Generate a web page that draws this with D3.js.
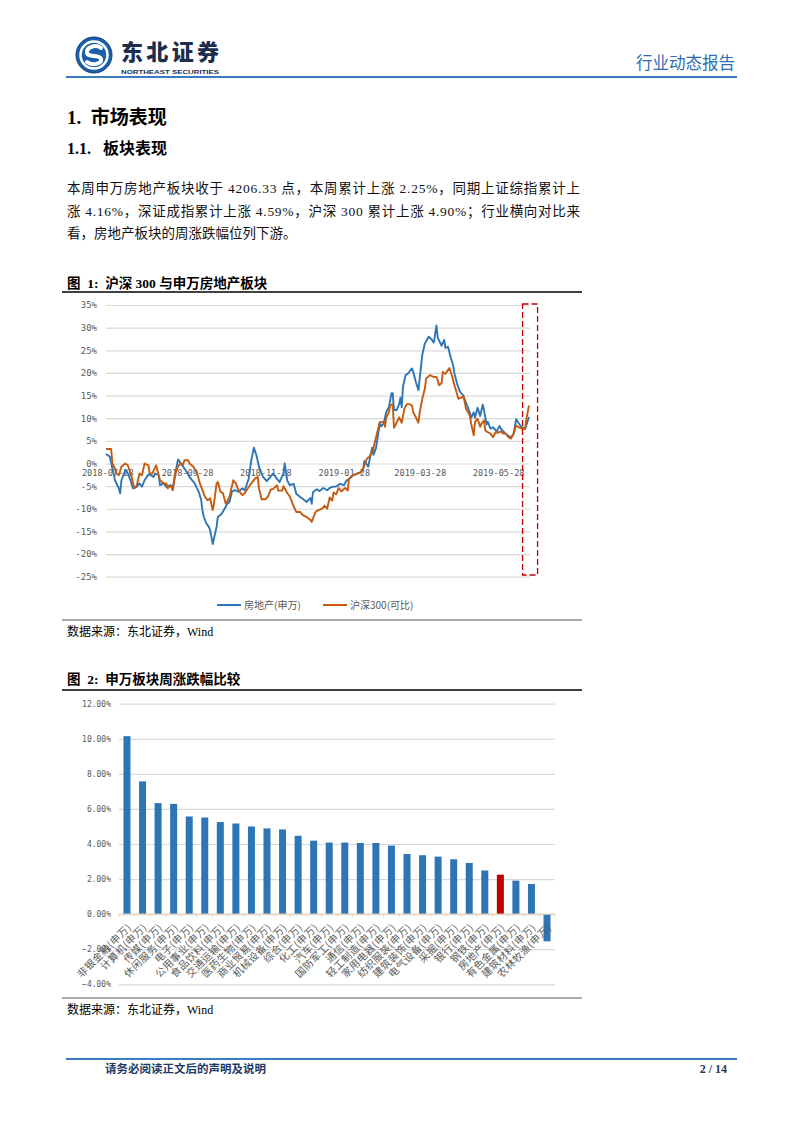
<!DOCTYPE html>
<html>
<head>
<meta charset="utf-8">
<script src="https://cdn.jsdelivr.net/npm/d3@7"></script>
<style>
  body { margin: 0; background: #fff; }
  svg { display: block; }
  text { white-space: pre; }
</style>
</head>
<body>
<svg id="page" width="802" height="1133"></svg>
<script>
// ---- chart 1 data: readings, % change since 2018-07-27 ----
const reDates = ["2018-07-27","2018-07-30","2018-08-03","2018-08-06","2018-08-07","2018-08-08","2018-08-11","2018-08-13","2018-08-15","2018-08-17",
  "2018-08-20","2018-08-22","2018-08-24","2018-08-26","2018-08-29","2018-08-31","2018-09-02","2018-09-03","2018-09-06","2018-09-07",
  "2018-09-10","2018-09-12","2018-09-15","2018-09-17","2018-09-21","2018-09-24","2018-09-27","2018-09-30","2018-10-04","2018-10-07",
  "2018-10-09","2018-10-10","2018-10-11","2018-10-13","2018-10-15","2018-10-16","2018-10-17","2018-10-18","2018-10-21","2018-10-22",
  "2018-10-25","2018-10-28","2018-10-29","2018-10-31","2018-11-02","2018-11-04","2018-11-07","2018-11-10","2018-11-12","2018-11-15",
  "2018-11-17","2018-11-19","2018-11-21","2018-11-23","2018-11-25","2018-11-26","2018-11-29","2018-12-02","2018-12-04","2018-12-07",
  "2018-12-09","2018-12-12","2018-12-13","2018-12-15","2018-12-17","2018-12-20","2018-12-22","2018-12-25","2018-12-27","2018-12-30",
  "2019-01-02","2019-01-03","2019-01-04","2019-01-07","2019-01-09","2019-01-12","2019-01-15","2019-01-17","2019-01-20","2019-01-22",
  "2019-01-25","2019-01-28","2019-01-30","2019-02-02","2019-02-04","2019-02-07","2019-02-10","2019-02-12","2019-02-13","2019-02-16",
  "2019-02-19","2019-02-20","2019-02-22","2019-02-25","2019-02-26","2019-02-28","2019-03-02","2019-03-04","2019-03-06","2019-03-07",
  "2019-03-08","2019-03-10","2019-03-12","2019-03-13","2019-03-14","2019-03-15","2019-03-17","2019-03-19","2019-03-22","2019-03-23",
  "2019-03-25","2019-03-27","2019-03-30","2019-04-01","2019-04-04","2019-04-06","2019-04-08","2019-04-10","2019-04-11","2019-04-14",
  "2019-04-16","2019-04-17","2019-04-19","2019-04-21","2019-04-23","2019-04-24","2019-04-26","2019-04-28","2019-05-01","2019-05-03",
  "2019-05-06","2019-05-07","2019-05-09","2019-05-10","2019-05-12","2019-05-14","2019-05-16","2019-05-17","2019-05-19","2019-05-20",
  "2019-05-22","2019-05-24","2019-05-27","2019-05-29","2019-05-31","2019-06-02","2019-06-05","2019-06-07","2019-06-09","2019-06-11",
  "2019-06-13","2019-06-15","2019-06-18","2019-06-21"];
const reValues = [2.1,1.5,-3.7,-5.5,-6.6,-3.7,-1.5,-2.2,-3.7,-5.5,
  -5.1,-4.4,-5.1,-3.7,-2.4,-2.6,-3.0,-2.2,-2.6,-4.8,
  -4.4,-5.2,-4.8,-5.2,0.9,-0.3,-1.5,-3.0,-4.4,-6.2,
  -8.0,-10.3,-11.7,-13.2,-14.0,-14.8,-16.2,-17.8,-14.0,-11.8,
  -11.1,-9.6,-9.0,-8.5,-6.2,-5.9,-6.2,-5.5,-5.9,-3.3,
  0.7,3.5,1.8,-0.7,-2.2,-2.9,-3.9,-2.9,-2.2,-3.4,
  -4.1,-2.2,0.0,-3.8,-4.8,-4.5,-6.7,-7.4,-7.8,-8.5,
  -7.6,-8.9,-6.3,-5.7,-6.1,-5.4,-5.9,-5.4,-5.1,-5.1,
  -4.5,-4.8,-3.8,-3.2,-2.6,-2.3,-2.0,-1.3,0.6,-0.7,
  3.5,1.9,3.4,8.9,8.2,8.9,11.4,12.4,15.5,15.5,
  11.8,11.8,13.1,14.5,12.4,17.0,19.5,19.9,21.0,20.2,
  18.0,16.2,24.0,26.5,28.0,27.5,26.7,30.5,27.8,26.0,
  27.3,25.5,25.8,23.5,21.7,19.9,17.7,16.0,14.9,13.4,
  11.2,10.1,11.3,10.1,12.3,10.5,13.0,11.8,8.6,9.2,
  7.7,8.0,7.1,8.3,7.4,6.8,6.1,5.8,6.5,9.8,
  8.9,8.1,7.7,10.3];

const hsDates = ["2018-07-27","2018-07-31","2018-08-01","2018-08-03","2018-08-04","2018-08-06","2018-08-08","2018-08-11","2018-08-13","2018-08-16",
  "2018-08-18","2018-08-20","2018-08-22","2018-08-24","2018-08-26","2018-08-29","2018-08-30","2018-09-01","2018-09-04","2018-09-06",
  "2018-09-07","2018-09-10","2018-09-12","2018-09-13","2018-09-15","2018-09-17","2018-09-19","2018-09-21","2018-09-23","2018-09-25",
  "2018-09-26","2018-09-29","2018-09-30","2018-10-03","2018-10-06","2018-10-08","2018-10-11","2018-10-12","2018-10-14","2018-10-16",
  "2018-10-18","2018-10-19","2018-10-21","2018-10-22","2018-10-24","2018-10-26","2018-10-28","2018-10-29","2018-10-31","2018-11-01",
  "2018-11-03","2018-11-05","2018-11-07","2018-11-10","2018-11-12","2018-11-15","2018-11-17","2018-11-20","2018-11-22","2018-11-23",
  "2018-11-25","2018-11-28","2018-11-30","2018-12-02","2018-12-04","2018-12-07","2018-12-08","2018-12-11","2018-12-12","2018-12-15",
  "2018-12-17","2018-12-20","2018-12-22","2018-12-25","2018-12-27","2018-12-30","2019-01-02","2019-01-03","2019-01-06","2019-01-08",
  "2019-01-11","2019-01-13","2019-01-15","2019-01-17","2019-01-19","2019-01-20","2019-01-22","2019-01-24","2019-01-26","2019-01-29",
  "2019-01-31","2019-02-01","2019-02-04","2019-02-10","2019-02-12","2019-02-15","2019-02-17","2019-02-20","2019-02-21","2019-02-25",
  "2019-02-28","2019-03-01","2019-03-02","2019-03-04","2019-03-05","2019-03-07","2019-03-08","2019-03-10","2019-03-12","2019-03-14",
  "2019-03-16","2019-03-18","2019-03-20","2019-03-22","2019-03-23","2019-03-25","2019-03-27","2019-03-28","2019-03-30","2019-04-01",
  "2019-04-02","2019-04-05","2019-04-08","2019-04-10","2019-04-11","2019-04-12","2019-04-14","2019-04-15","2019-04-17","2019-04-18",
  "2019-04-20","2019-04-22","2019-04-24","2019-04-26","2019-04-27","2019-04-30","2019-05-01","2019-05-03","2019-05-06","2019-05-07",
  "2019-05-09","2019-05-10","2019-05-12","2019-05-14","2019-05-15","2019-05-17","2019-05-18","2019-05-20","2019-05-22","2019-05-24",
  "2019-05-26","2019-05-28","2019-05-30","2019-06-01","2019-06-03","2019-06-05","2019-06-07","2019-06-09","2019-06-11","2019-06-13",
  "2019-06-15","2019-06-18","2019-06-19","2019-06-21"];
const hsValues = [3.2,3.2,0.0,-1.1,-2.2,-2.6,-0.7,0.0,-0.4,-3.0,
  -5.5,-4.8,-2.2,-2.6,0.0,-0.4,-2.2,-2.2,-0.4,-2.6,
  -3.7,-4.4,-4.4,-5.5,-4.8,-5.9,-2.2,-0.7,0.0,-0.2,
  0.7,0.7,0.0,-0.7,-2.2,-4.4,-6.6,-7.4,-8.1,-7.7,
  -10.3,-8.8,-4.4,-4.1,-6.2,-6.6,-8.8,-8.5,-7.4,-6.2,
  -3.7,-4.4,-5.9,-7.0,-6.5,-5.2,-4.4,-3.3,-3.0,-5.5,
  -7.9,-7.9,-7.3,-5.8,-5.6,-4.8,-6.0,-6.0,-5.0,-6.5,
  -7.3,-9.5,-10.7,-10.7,-11.4,-11.8,-12.5,-12.9,-10.7,-10.3,
  -10.0,-9.3,-10.0,-7.5,-8.2,-6.4,-6.8,-5.4,-6.2,-5.4,
  -6.0,-3.4,-2.6,-1.9,-1.1,1.1,1.5,3.2,4.6,9.2,
  9.2,8.1,10.2,11.3,12.8,13.1,7.9,9.0,10.2,9.0,
  12.0,13.1,13.1,12.8,11.3,10.2,9.0,11.3,14.3,16.5,
  18.8,19.5,19.1,19.1,18.4,17.3,17.7,20.2,19.8,20.2,
  21.1,19.5,17.3,15.4,14.3,14.6,15.0,12.1,10.6,8.8,
  6.2,9.2,9.9,8.1,8.8,9.5,7.3,6.9,6.6,5.8,
  6.9,6.8,7.1,6.6,6.6,5.8,5.5,6.6,8.4,8.0,
  7.8,7.6,9.9,12.8];

const lineTicks = ["2018-07-28","2018-09-28","2018-11-28","2019-01-28","2019-03-28","2019-05-28"];
const lineYTicks = [35,30,25,20,15,10,5,0,-5,-10,-15,-20,-25];
const seriesNames = ["房地产(申万)","沪深300(可比)"];
const highlightStart = "2019-06-16";

// ---- chart 2 data: weekly change by SW sector (%) ----
const sectors = ["非银金融","计算机","传媒","休闲服务","电子","公用事业","食品饮料","交通运输","医药生物","商业贸易",
  "机械设备","综合","化工","汽车","国防军工","通信","轻工制造","家用电器","纺织服装","建筑装饰",
  "电气设备","采掘","银行","钢铁","房地产","有色金属","建筑材料","农林牧渔"];
const weekChange = [10.15,7.57,6.33,6.29,5.57,5.51,5.25,5.17,5.00,4.89,
  4.83,4.47,4.19,4.08,4.08,4.06,4.06,3.91,3.43,3.36,
  3.28,3.13,2.92,2.49,2.25,1.91,1.72,-1.55];
const barYTicks = [12,10,8,6,4,2,0,-2,-4];

const BLUE = "#2e75b6", ORANGE = "#c55a11", RED = "#c00000", GRID = "#d9d9d9", AXISTXT = "#595959";
const SERIF = "'Liberation Serif','Noto Sans CJK SC',serif";
const CJK = "'Noto Sans CJK SC',sans-serif";
const MONO = "'DejaVu Sans Mono',monospace";

const svg = d3.select("#page");
svg.append("rect").attr("width", 802).attr("height", 1133).attr("fill", "#fff");

// ---------- header / footer ----------
function drawHeader() {
  const logo = svg.append("g").attr("transform", "translate(94,55)");
  logo.append("circle").attr("r", 18).attr("fill", "#1b5ea9");
  logo.append("circle").attr("r", 13.5).attr("fill", "none").attr("stroke", "#fff").attr("stroke-width", 2.5);
  logo.append("path").attr("d", "M7,-7 C2,-11 -8,-8 -7,-2 C-6,3 6,-1 7,4 C8,9 -2,11 -7,7")
    .attr("fill", "none").attr("stroke", "#fff").attr("stroke-width", 4).attr("stroke-linecap", "round");
  logo.append("circle").attr("r", 18).attr("fill", "none").attr("stroke", "#0f3f7a").attr("stroke-width", 1);

  svg.append("text").attr("x", 121).attr("y", 60).attr("font-family", CJK).attr("font-weight", 900)
    .attr("font-size", 22).attr("fill", "#1f2d4d").attr("textLength", 98).text("东北证券");
  svg.append("text").attr("x", 121).attr("y", 73.5).attr("font-family", "'Liberation Sans',Arial")
    .attr("font-weight", "bold").attr("font-size", 6.2).attr("fill", "#1f2d4d")
    .attr("textLength", 98).attr("lengthAdjust", "spacingAndGlyphs").text("NORTHEAST SECURITIES");
  svg.append("text").attr("x", 735).attr("y", 69).attr("text-anchor", "end").attr("font-family", CJK)
    .attr("font-size", 16.5).attr("fill", "#2e6db4").text("行业动态报告");
  svg.append("line").attr("x1", 66).attr("x2", 737).attr("y1", 77).attr("y2", 77)
    .attr("stroke", "#3a7cc0").attr("stroke-width", 2);

  svg.append("line").attr("x1", 66).attr("x2", 737).attr("y1", 1059).attr("y2", 1059)
    .attr("stroke", "#3a7cc0").attr("stroke-width", 2);
  svg.append("text").attr("x", 105).attr("y", 1073).attr("font-family", SERIF).attr("font-weight", "bold")
    .attr("font-size", 11.5).attr("fill", "#1f3864").text("请务必阅读正文后的声明及说明");
  svg.append("text").attr("x", 727).attr("y", 1073).attr("text-anchor", "end").attr("font-family", SERIF)
    .attr("font-weight", "bold").attr("font-size", 12).attr("fill", "#1f3864").text("2 / 14");
}
drawHeader();

// ---------- headings and paragraph ----------
function drawText() {
  svg.append("text").attr("x", 67).attr("y", 124).attr("font-family", SERIF).attr("font-weight", "bold")
    .attr("font-size", 19).text("1.  市场表现");
  svg.append("text").attr("x", 67).attr("y", 154).attr("font-family", SERIF).attr("font-weight", "bold")
    .attr("font-size", 16).text("1.1.   板块表现");

  const para = [
    ["本周申万房地产板块收于 4206.33 点，本周累计上涨 2.25%，同期上证综指累计上", true],
    ["涨 4.16%，深证成指累计上涨 4.59%，沪深 300 累计上涨 4.90%；行业横向对比来", true],
    ["看，房地产板块的周涨跌幅位列下游。", false]
  ];
  para.forEach((p, i) => {
    const t = svg.append("text").attr("x", 67).attr("y", 193 + i * 22.5).attr("font-family", SERIF)
      .attr("font-size", 13.5).attr("fill", "#111").text(p[0]);
    if (p[1]) t.attr("textLength", 513).attr("lengthAdjust", "spacing");
  });

  svg.append("text").attr("x", 67).attr("y", 288).attr("font-family", SERIF).attr("font-weight", "bold")
    .attr("font-size", 13.5).text("图  1:  沪深 300 与申万房地产板块");
  svg.append("line").attr("x1", 62).attr("x2", 582).attr("y1", 292).attr("y2", 292).attr("stroke", "#000").attr("stroke-width", 1.5);
  svg.append("line").attr("x1", 62).attr("x2", 582).attr("y1", 620).attr("y2", 620).attr("stroke", "#555").attr("stroke-width", 1.2);
  svg.append("text").attr("x", 67).attr("y", 636).attr("font-family", SERIF).attr("font-size", 12).text("数据来源：东北证券，Wind");

  svg.append("text").attr("x", 67).attr("y", 684).attr("font-family", SERIF).attr("font-weight", "bold")
    .attr("font-size", 13.5).text("图  2:  申万板块周涨跌幅比较");
  svg.append("line").attr("x1", 62).attr("x2", 582).attr("y1", 690).attr("y2", 690).attr("stroke", "#000").attr("stroke-width", 1.5);
  svg.append("line").attr("x1", 62).attr("x2", 582).attr("y1", 998).attr("y2", 998).attr("stroke", "#555").attr("stroke-width", 1.2);
  svg.append("text").attr("x", 67).attr("y", 1014).attr("font-family", SERIF).attr("font-size", 12).text("数据来源：东北证券，Wind");
}
drawText();

// ---------- chart 1: line chart ----------
function drawLineChart() {
  const parse = d3.timeParse("%Y-%m-%d");
  const x = d3.scaleTime().domain([parse("2018-07-27"), parse("2019-06-21")]).range([106, 529]);
  const y = d3.scaleLinear().domain([-25, 35]).range([576.7, 305]);
  const g = svg.append("g");

  // gridlines
  g.append("g").attr("transform", "translate(106,0)")
    .call(d3.axisRight(y).tickValues(lineYTicks).tickSize(424).tickFormat(""))
    .call(a => a.select(".domain").remove())
    .call(a => a.selectAll("line").attr("stroke", GRID).attr("stroke-width", 1.2));

  // y labels
  g.append("g").attr("transform", "translate(100,0)")
    .call(d3.axisLeft(y).tickValues(lineYTicks).tickSize(0).tickFormat(d => d + "%"))
    .call(a => a.select(".domain").remove())
    .call(a => a.selectAll("text").attr("font-family", MONO).attr("font-size", 9).attr("fill", AXISTXT));

  // x labels sit on the zero line
  g.append("g").attr("transform", `translate(0,${y(0)})`)
    .call(d3.axisBottom(x).tickValues(lineTicks.map(parse)).tickSize(0).tickPadding(6)
      .tickFormat(d3.timeFormat("%Y-%m-%d")))
    .call(a => a.select(".domain").remove())
    .call(a => a.selectAll("text").attr("font-family", MONO).attr("font-size", 8.6).attr("fill", AXISTXT));

  const line = d3.line().x(d => x(d[0])).y(d => y(d[1]));
  const series = [
    { dates: reDates, values: reValues, color: BLUE },
    { dates: hsDates, values: hsValues, color: ORANGE }
  ];
  series.forEach(s => {
    const pts = s.dates.map((d, i) => [parse(d), s.values[i]]);
    g.append("path").datum(pts).attr("d", line).attr("fill", "none")
      .attr("stroke", s.color).attr("stroke-width", 1.9).attr("stroke-linejoin", "round");
  });

  // red dashed highlight box around the last week
  g.append("rect").attr("x", x(parse(highlightStart))).attr("y", 304)
    .attr("width", 15).attr("height", 271)
    .attr("fill", "none").attr("stroke", RED).attr("stroke-width", 1.3).attr("stroke-dasharray", "6,3");

  // legend
  const leg = g.append("g").attr("font-family", CJK).attr("font-size", 10).attr("fill", AXISTXT);
  [[217, 244], [323, 350]].forEach((p, i) => {
    leg.append("line").attr("x1", p[0]).attr("x2", p[0] + 24).attr("y1", 605).attr("y2", 605)
      .attr("stroke", series[i].color).attr("stroke-width", 2);
    leg.append("text").attr("x", p[1]).attr("y", 609).text(seriesNames[i]);
  });
}
drawLineChart();

// ---------- chart 2: bar chart ----------
function drawBarChart() {
  const x = d3.scaleBand().domain(sectors).range([119.2, 554.8]).paddingInner(0.55).paddingOuter(0.275);
  const y = d3.scaleLinear().domain([-4, 12]).range([984.3, 703.7]);
  const g = svg.append("g");

  g.append("g").attr("transform", "translate(119,0)")
    .call(d3.axisRight(y).tickValues(barYTicks).tickSize(436).tickFormat(""))
    .call(a => a.select(".domain").remove())
    .call(a => a.selectAll("line").attr("stroke", GRID).attr("stroke-width", 1.2));

  g.append("g").attr("transform", "translate(114,0)")
    .call(d3.axisLeft(y).tickValues(barYTicks).tickSize(0).tickFormat(d => d3.format(".2f")(d) + "%"))
    .call(a => a.select(".domain").remove())
    .call(a => a.selectAll("text").attr("font-family", MONO).attr("font-size", 8).attr("fill", AXISTXT));

  g.selectAll("rect.bar").data(sectors).enter().append("rect").attr("class", "bar")
    .attr("x", d => x(d))
    .attr("width", x.bandwidth())
    .attr("y", (d, i) => y(Math.max(0, weekChange[i])))
    .attr("height", (d, i) => Math.abs(y(weekChange[i]) - y(0)))
    .attr("fill", d => d === "房地产" ? RED : BLUE);

  // zero axis with category ticks
  g.append("line").attr("x1", 119.2).attr("x2", 554.8).attr("y1", y(0)).attr("y2", y(0))
    .attr("stroke", "#e6d3bf").attr("stroke-width", 1.2);
  g.selectAll("line.tick2").data(d3.range(sectors.length + 1)).enter().append("line")
    .attr("x1", i => 119.2 + i * x.step()).attr("x2", i => 119.2 + i * x.step())
    .attr("y1", y(0)).attr("y2", y(0) + 3).attr("stroke", "#e6d3bf");

  // rotated category labels
  g.selectAll("text.cat").data(sectors).enter().append("text").attr("class", "cat")
    .attr("transform", d => `translate(${x(d) + x.bandwidth() / 2 + 5},928) rotate(-45)`)
    .attr("text-anchor", "end").attr("font-family", CJK).attr("font-size", 10.2)
    .attr("letter-spacing", 0.4).attr("fill", AXISTXT)
    .text(d => d + "(申万)");
}
drawBarChart();
</script>
</body>
</html>
